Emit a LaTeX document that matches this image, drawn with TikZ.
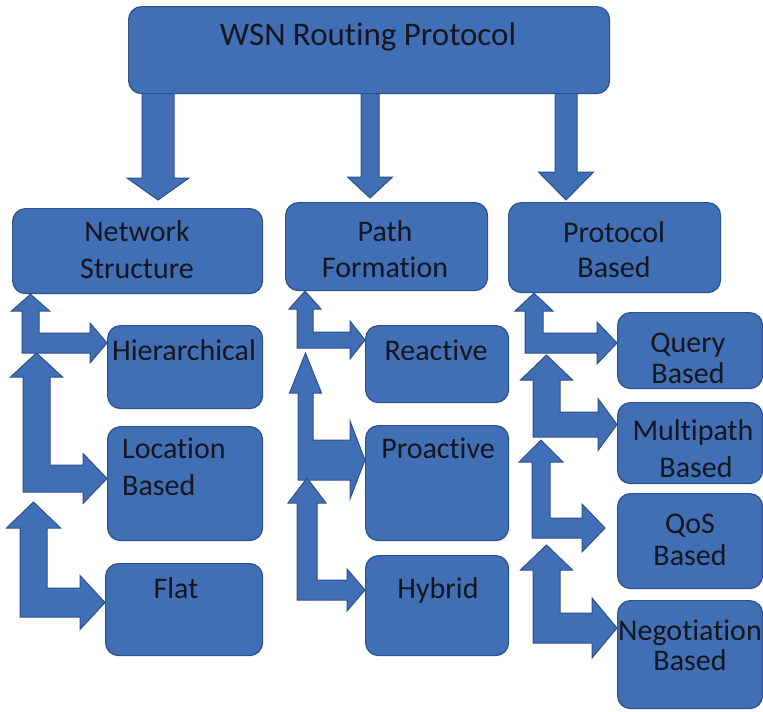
\documentclass[tikz,border=0pt]{standalone}
\usepackage{fontspec}
\setmainfont[RawFeature={-liga;-clig;-calt;-dlig}]{Carlito}
\usetikzlibrary{calc,backgrounds}
\definecolor{boxblue}{RGB}{64,111,181}
\definecolor{boxedge}{RGB}{45,80,140}
\definecolor{txtc}{RGB}{22,22,30}
\tikzset{
  box/.style={draw=boxedge, fill=boxblue, line width=1.2pt, rounded corners=13pt, inner sep=0pt, anchor=north west},
  arr/.style={draw=boxedge, fill=boxblue, line width=1pt, line join=miter},
  txt/.style={text=txtc, inner sep=0pt, anchor=base, font=\fontsize{30}{36}\selectfont},
}
\def\btip{0}
% bent double arrow: parent ref, child node, x1/x2/headhalfw/headbase/arm1/arm2/rbase/rhalf/tipgap
\newcommand\barrow[3]{\def\bparent{#1}\def\bchild{#2}\barrowi#3\relax}
\def\barrowi#1/#2/#3/#4/#5/#6/#7/#8/#9\relax{%
  \pgfmathsetmacro\bcx{(#1+#2)/2}%
  \pgfmathsetmacro\bam{(#5+#6)/2}%
  \pgfmathsetmacro\bhl{\bcx-#3}%
  \pgfmathsetmacro\bhr{\bcx+#3}%
  \pgfmathsetmacro\brt{\bam-#8}%
  \pgfmathsetmacro\brb{\bam+#8}%
  \draw[arr] ($(\bcx,0 |- \bparent)+(0,#9)$) -- (\bhr,#4) -- (#2,#4) -- (#2,#5) -- (#7,#5) -- (#7,\brt)
     -- ($(\bchild.west |- 0,\bam)+(-\btip,0)$) -- (#7,\brb) -- (#7,#6) -- (#1,#6) -- (#1,#4) -- (\bhl,#4) -- cycle;
  \coordinate (\bchild Arm) at (\bcx,#6);
}
% straight down arrow: parent, child, x1/x2/headhalfw/headbase/gap
\newcommand\darrow[3]{\def\bparent{#1}\def\bchild{#2}\darrowi#3\relax}
\def\darrowi#1/#2/#3/#4/#5\relax{%
  \pgfmathsetmacro\bcx{(#1+#2)/2}%
  \pgfmathsetmacro\bhl{\bcx-#3}%
  \pgfmathsetmacro\bhr{\bcx+#3}%
  \draw[arr] (#1,0 |- \bparent.south) -- (#1,#4) -- (\bhl,#4) -- ($(\bcx,0 |- \bchild.north)+(0,-#5)$)
     -- (\bhr,#4) -- (#2,#4) -- (#2,0 |- \bparent.south);
}
\begin{document}
\begin{tikzpicture}[x=1pt,y=-1pt]
\useasboundingbox (0,0) rectangle (763,712);
% boxes
\node[box, minimum width=481pt, minimum height=87pt] (WSN) at (128,6) {};
\node[box, minimum width=250pt, minimum height=85pt] (NS) at (12,208) {};
\node[box, minimum width=202pt, minimum height=88pt] (PF) at (285,202) {};
\node[box, minimum width=212pt, minimum height=90pt] (PB) at (508,202) {};
\node[box, minimum width=155pt, minimum height=83pt] (Hier) at (107,325) {};
\node[box, minimum width=155pt, minimum height=114pt] (Loc) at (107,426) {};
\node[box, minimum width=157pt, minimum height=92pt] (Flat) at (105,563) {};
\node[box, minimum width=143pt, minimum height=77pt] (React) at (365,325) {};
\node[box, minimum width=143pt, minimum height=115pt] (Proact) at (365,425) {};
\node[box, minimum width=143pt, minimum height=100pt] (Hyb) at (365,555) {};
\node[box, minimum width=145pt, minimum height=76pt] (Query) at (617,312) {};
\node[box, minimum width=145pt, minimum height=81pt] (Multi) at (617,402) {};
\node[box, minimum width=145pt, minimum height=95pt] (QoS) at (617,493) {};
\node[box, minimum width=145pt, minimum height=108pt] (Neg) at (617,600) {};
% arrows
\begin{pgfonlayer}{background}
\darrow{WSN}{NS}{142/174/31/178/8}
\darrow{WSN}{PF}{361/379/22.5/177/4}
\darrow{WSN}{PB}{555/577/27.5/172/2}
\barrow{NS.south}{Hier}{22/39/19/311/333/353/90/20/0}
\barrow{HierArm}{Loc}{23/50/26/377/465/492/83/25/0}
\barrow{LocArm}{Flat}{20/47/27/528/588/617/80/27/10}
\barrow{PF.south}{React}{297/313/16/309/332/348/350/19/0}
\barrow{ReactArm}{Proact}{298/313/16/393/440/480/350/39/5}
\barrow{ProactArm}{Hyb}{297/317/19/503/580/600/347/21/-2}
\barrow{PB.south}{Query}{525/543/19/311/333/353/597/21/0}
\barrow{QueryArm}{Multi}{533/560/26/380/412/437/598/26/2}
\def\btip{12}\barrow{MultiArm}{QoS}{532/550/22/462/518/538/582/24/3}\def\btip{0}
\barrow{QoSArm}{Neg}{533/560/26/570/613/643/592/30/7}
\end{pgfonlayer}
% texts
\node[txt, font=\fontsize{33}{40}\selectfont] (tWSN) at (368,45) {WSN Routing Protocol};
\node[txt] (tNS1) at (137,241) {Network};
\node[txt] (tNS2) at (137,278) {Structure};
\node[txt] (tPF1) at (385,241) {Path};
\node[txt] (tPF2) at (385,277) {Formation};
\node[txt] (tPB1) at (614,242) {Protocol};
\node[txt] (tPB2) at (614,277) {Based};
\node[txt] (tHier) at (184,360) {Hierarchical};
\node[txt, anchor=base west] (tLoc1) at (122,458) {Location};
\node[txt, anchor=base west] (tLoc2) at (122,495) {Based};
\node[txt] (tFlat) at (176,598) {Flat};
\node[txt] (tReact) at (436,360) {Reactive};
\node[txt] (tProact) at (438,458) {Proactive};
\node[txt] (tHyb) at (438,598) {Hybrid};
\node[txt] (tQ1) at (688,352) {Query};
\node[txt] (tQ2) at (688,383) {Based};
\node[txt] (tM1) at (693,440) {Multipath};
\node[txt] (tM2) at (696,477) {Based};
\node[txt] (tQoS1) at (690,533) {QoS};
\node[txt] (tQoS2) at (690,565) {Based};
\node[txt] (tN1) at (690,640) {Negotiation};
\node[txt] (tN2) at (690,670) {Based};
\end{tikzpicture}
\end{document}
